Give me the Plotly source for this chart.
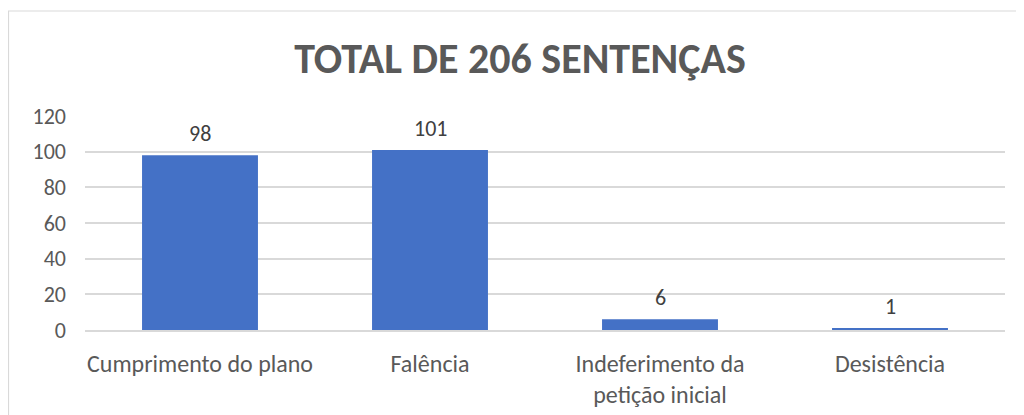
import plotly.graph_objects as go

categories = ["Cumprimento do plano", "Falência", "Indeferimento da<br>petição inicial", "Desistência"]
values = [98, 101, 6, 1]
y_ticks = [0, 20, 40, 60, 80, 100, 120]
title_text = "TOTAL DE 206 SENTENÇAS"

FONT = "Carlito, Lato, sans-serif"

# page has an 8px body margin; plot area: x 77..997, y 108..322 in figure coords
L, T, PW, PH = 77, 108, 920, 214

fig = go.Figure(
    go.Bar(
        x=categories,
        y=values,
        marker=dict(color="#4471c6", line=dict(width=0)),
        hoverinfo="x+y",
    )
)

for c, v in zip(categories, values):
    fig.add_annotation(
        x=c, y=v, text=str(v), showarrow=False,
        yanchor="bottom", yshift=6,
        font=dict(family=FONT, size=22, color="#404040"),
    )

fig.update_layout(
    width=1024,
    height=415,
    paper_bgcolor="white",
    plot_bgcolor="white",
    margin=dict(l=L, r=1024 - L - PW, t=T, b=415 - T - PH),
    bargap=0.496,
    showlegend=False,
    title=dict(
        text="<b>" + title_text + "</b>",
        x=(520 - 8) / 1024,
        xanchor="center",
        y=1 - 50 / 415,
        yanchor="middle",
        yref="container",
        font=dict(family=FONT, size=42, color="#595959"),
    ),
    font=dict(family=FONT, color="#595959"),
)

fig.update_yaxes(
    range=[0, 120],
    tickvals=y_ticks,
    showgrid=True,
    gridcolor="#d9d9d9",
    gridwidth=1.5,
    zeroline=False,
    showline=False,
    ticks="",
    ticklabelstandoff=18,
    tickfont=dict(family=FONT, size=22, color="#595959"),
)
fig.update_xaxes(
    showline=True,
    linecolor="#d9d9d9",
    linewidth=1.5,
    ticks="",
    ticklabelstandoff=11,
    tickfont=dict(family=FONT, size=24, color="#595959"),
)

fig.add_shape(
    type="rect",
    xref="paper",
    yref="paper",
    x0=(0.5 - L) / PW,
    x1=(1040 - L) / PW,
    y0=(T + PH - 440) / PH,
    y1=(T + PH - 3) / PH,
    line=dict(color="#d9d9d9", width=1.2),
    fillcolor="rgba(0,0,0,0)",
    layer="below",
)

fig.write_html("out.html")
